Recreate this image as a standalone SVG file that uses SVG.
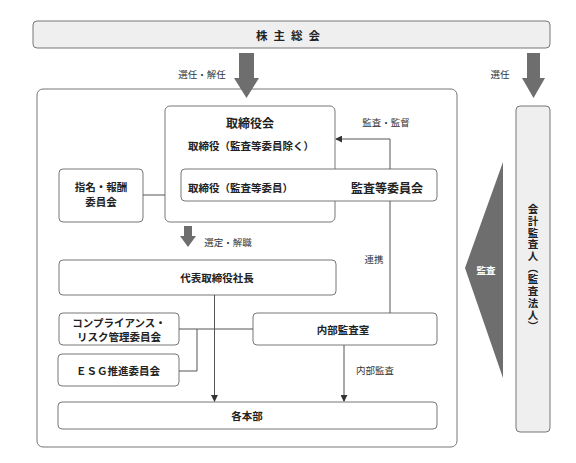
<svg xmlns="http://www.w3.org/2000/svg" width="576" height="463" viewBox="0 0 576 463">
<defs>
<marker id="ah" viewBox="0 0 8 8" refX="7" refY="4" markerWidth="7" markerHeight="7" orient="auto" markerUnits="userSpaceOnUse">
<path d="M0,0 L8,4 L0,8 Z" fill="#333"/>
</marker>
</defs>
<style>
.box{fill:#fff;stroke:#777;stroke-width:1}
.gbox{fill:#efefef;stroke:#777;stroke-width:1}
.t{font-family:"Noto Sans CJK JP","Noto Sans",sans-serif;font-size:10.5px;font-weight:700;fill:#222;text-anchor:middle;dominant-baseline:central}
.l{font-family:"Noto Sans CJK JP","Noto Sans",sans-serif;font-size:9.5px;fill:#333;text-anchor:middle;dominant-baseline:central}
.v{font-family:"Noto Sans CJK JP","Noto Sans",sans-serif;font-size:10.5px;font-weight:700;fill:#222;writing-mode:vertical-rl;text-anchor:start;letter-spacing:1.2px}
.ln{fill:none;stroke:#555;stroke-width:1}
.big{fill:#6e6e6e}
</style>
<g id="shareholders">
<rect class="gbox" x="33" y="21" width="517" height="27" rx="4"/>
<text class="t" x="291" y="35" style="font-size:11.5px;letter-spacing:6px">株主総会</text>
</g>
<g id="main-frame">
<rect class="box" x="37" y="89" width="420" height="358" rx="6"/>
</g>
<g id="board">
<rect class="box" x="165" y="106" width="170" height="116" rx="5"/>
<text class="t" x="250" y="122" style="font-size:12px">取締役会</text>
<text class="t" x="188" y="145" style="text-anchor:start">取締役（監査等委員除く）</text>
</g>
<g id="audit-committee">
<rect class="box" x="181" y="169" width="256" height="32" rx="4"/>
<text class="t" x="188" y="187" style="text-anchor:start">取締役（監査等委員）</text>
<text class="t" x="387" y="187" style="font-size:12px">監査等委員会</text>
</g>
<g id="nomination">
<rect class="box" x="59" y="169" width="84" height="53" rx="4"/>
<text class="t" x="101" y="186">指名・報酬</text>
<text class="t" x="101" y="201">委員会</text>
</g>
<g id="ceo">
<rect class="box" x="59" y="260" width="277" height="35" rx="4"/>
<text class="t" x="217" y="277">代表取締役社長</text>
</g>
<g id="compliance">
<rect class="box" x="59" y="313" width="120" height="32" rx="4"/>
<text class="t" x="119" y="322">コンプライアンス・</text>
<text class="t" x="119" y="336">リスク管理委員会</text>
</g>
<g id="esg">
<rect class="box" x="58" y="354" width="121" height="32" rx="4"/>
<text class="t" x="118" y="370">ＥＳＧ推進委員会</text>
</g>
<g id="internal-audit">
<rect class="box" x="253" y="313" width="184" height="32" rx="4"/>
<text class="t" x="343" y="329">内部監査室</text>
</g>
<g id="divisions">
<rect class="box" x="58" y="402" width="379" height="27" rx="4"/>
<text class="t" x="247" y="415">各本部</text>
</g>
<g id="accounting-auditor">
<rect class="gbox" x="516" y="106" width="34" height="326" rx="4"/>
<text class="v" x="533" y="204">会計監査人（監査法人）</text>
</g>
<g id="connectors">
<path class="big" d="M239,53 H254 V78 H259 L246.5,98 L234,78 H239 Z"/>
<text class="l" x="202" y="74">選任・解任</text>
<path class="big" d="M527,53 H540 V78 H545 L533.5,98 L522,78 H527 Z"/>
<text class="l" x="500" y="74">選任</text>
<path class="big" d="M184,226 H192 V236 H196 L188,247 L180,236 H184 Z"/>
<text class="l" x="228" y="242">選定・解職</text>
<line class="ln" x1="143" y1="195" x2="165" y2="195"/>
<path class="ln" d="M390,169 V139 H336" marker-end="url(#ah)"/>
<text class="l" x="386" y="122">監査・監督</text>
<line class="ln" x1="390" y1="201" x2="390" y2="313"/>
<text class="l" x="374" y="259">連携</text>
<path class="ln" d="M214.5,295 V401" marker-end="url(#ah)"/>
<line class="ln" x1="179" y1="329" x2="253" y2="329"/>
<path class="ln" d="M179,371 H197 V329"/>
<path class="ln" d="M344,345 V401" marker-end="url(#ah)"/>
<text class="l" x="375" y="370">内部監査</text>
<path class="big" d="M503,162 L465,268 L503,378 Z"/>
<text class="l" x="486" y="270" style="fill:#fff;font-weight:700">監査</text>
</g>
</svg>
